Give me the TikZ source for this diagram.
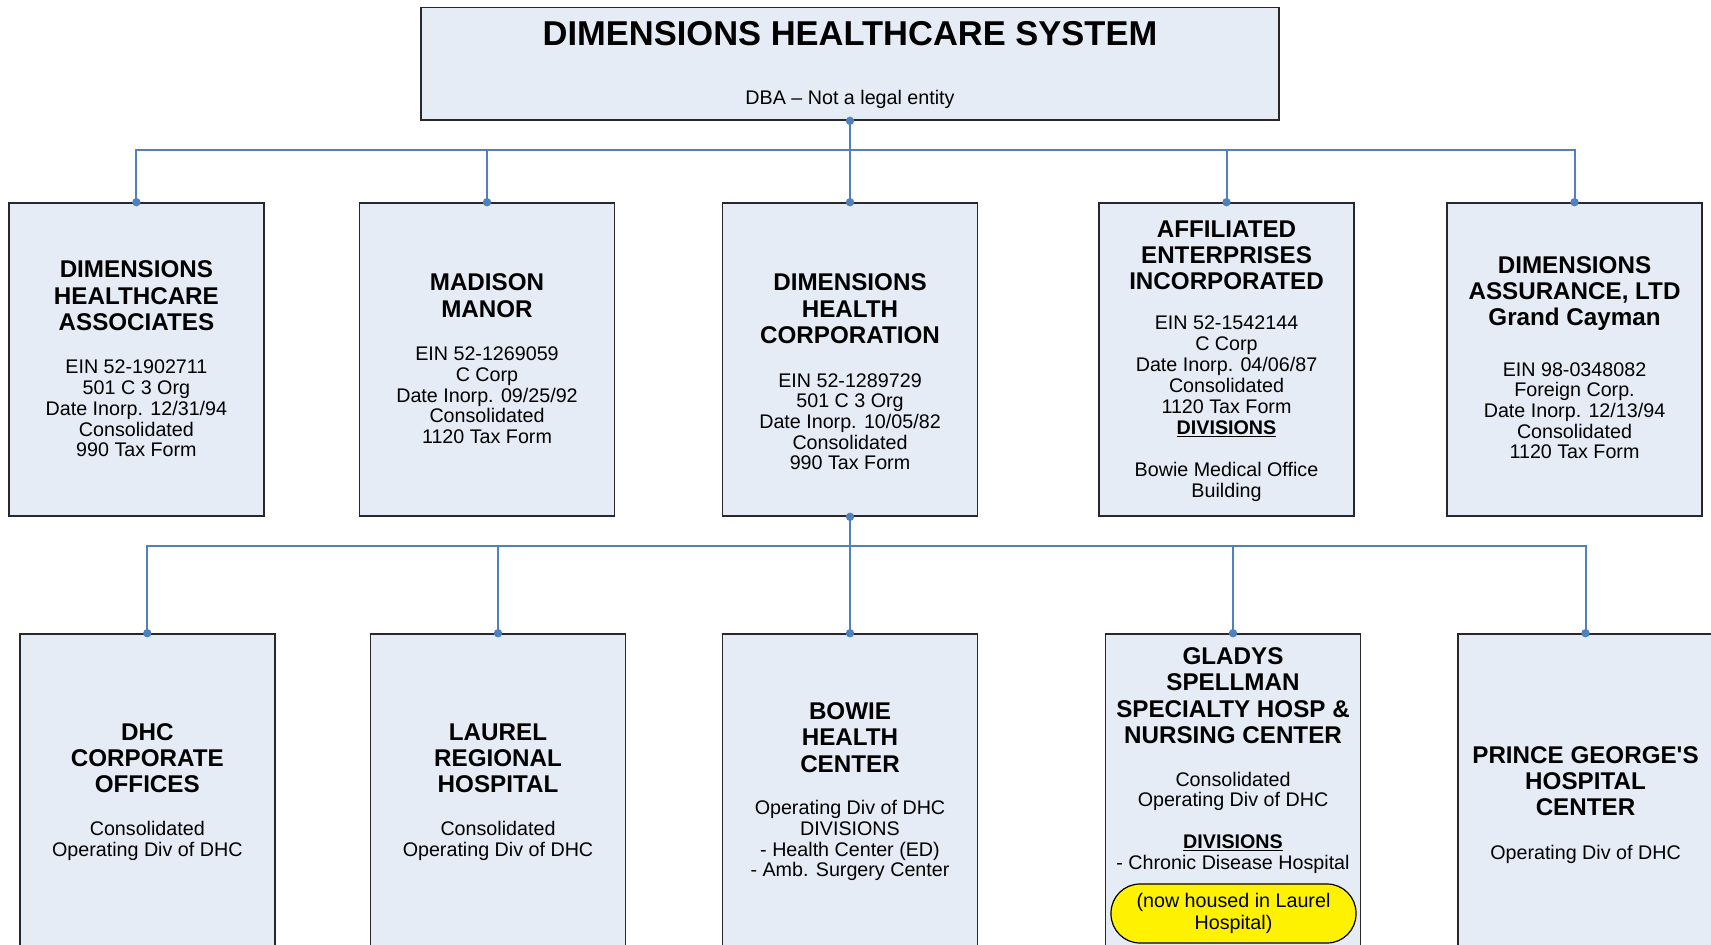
\documentclass[tikz,border=0pt]{standalone}
\usepackage{fontspec}
\setmainfont{Liberation Sans}
\definecolor{boxfill}{RGB}{230,236,246}
\definecolor{conn}{RGB}{79,129,189}
\definecolor{boxline}{RGB}{40,40,40}
\tikzset{
  orgbox/.style={draw=boxline, line width=1.6pt, fill=boxfill, minimum width=255pt, minimum height=#1, inner sep=0pt},
  ttl/.style={align=center, inner sep=0pt, font=\fontsize{24.2}{26.2}\selectfont\bfseries},
  bod/.style={align=center, inner sep=0pt, font=\fontsize{19.7}{20.7}\selectfont},
  link/.style={draw=conn, line width=2pt},
  note/.style={draw=black, line width=1.2pt, fill=yellow, rounded corners=29pt, minimum width=245pt, minimum height=59pt, inner sep=0pt, align=center, font=\fontsize{19.7}{21.5}\selectfont},
}
\begin{document}
\begin{tikzpicture}[x=1pt,y=-1pt]
\clip (0,0) rectangle (1711,945);
\fill[white] (0,0) rectangle (1711,945);
% top
\node[orgbox=112.5pt, minimum width=858pt] (top) at (850,63.8) {};
\node[inner sep=0pt, font=\fontsize{34.5}{36}\selectfont\bfseries] (toptitle) at (850,33.5) {DIMENSIONS HEALTHCARE SYSTEM};
\node[bod] (dba) at (850,99) {DBA – Not a legal entity};
% row 1 boxes
\node[orgbox=313pt] (a1) at (136.4,359.5) {};
\node[orgbox=313pt] (a2) at (487,359.5) {};
\node[orgbox=313pt] (a3) at (850,359.5) {};
\node[orgbox=313pt] (a4) at (1226.5,359.5) {};
\node[orgbox=313pt] (a5) at (1574.5,359.5) {};
% row 2 boxes
\node[orgbox=400pt] (b1) at (147.3,834) {};
\node[orgbox=400pt] (b2) at (498,834) {};
\node[orgbox=400pt] (b3) at (850,834) {};
\node[orgbox=400pt] (b4) at (1233,834) {};
\node[orgbox=400pt] (b5) at (1585.5,834) {};
% connectors
\coordinate (bus1) at (850,149.5);
\draw[link] (top.south) -- (bus1);
\foreach \n in {a1,a2,a3,a4,a5} \draw[link] (bus1) -| (\n.north);
\coordinate (bus2) at (850,545.6);
\draw[link] (a3.south) -- (bus2);
\foreach \n in {b1,b2,b3,b4,b5} \draw[link] (bus2) -| (\n.north);
\foreach \n in {a1,a2,a3,a4,a5,b1,b2,b3,b4,b5} \fill[conn] (\n.north) circle (4.2);
\fill[conn] (top.south) circle (4.2);
\fill[conn] (a3.south) circle (4.2);
% row 1 texts
\node[ttl] (a1t) at (136.4,295.7) {DIMENSIONS\\HEALTHCARE\\ASSOCIATES};
\node[bod] (a1b) at (136.4,408.6) {EIN 52-1902711\\501 C 3 Org\\Date Inorp. 12/31/94\\Consolidated\\990 Tax Form};
\node[ttl] (a2t) at (487,295.7) {MADISON\\MANOR};
\node[bod] (a2b) at (487,395.5) {EIN 52-1269059\\C Corp\\Date Inorp. 09/25/92\\Consolidated\\1120 Tax Form};
\node[ttl] (a3t) at (850,308.8) {DIMENSIONS\\HEALTH\\CORPORATION};
\node[bod] (a3b) at (850,421.7) {EIN 52-1289729\\501 C 3 Org\\Date Inorp. 10/05/82\\Consolidated\\990 Tax Form};
\node[ttl] (a4t) at (1226.5,255) {AFFILIATED\\ENTERPRISES\\INCORPORATED};
\node[bod, font=\fontsize{19.7}{21}\selectfont] (a4b) at (1226.5,408.5) {EIN 52-1542144\\C Corp\\Date Inorp. 04/06/87\\Consolidated\\1120 Tax Form\\\underline{\textbf{DIVISIONS}}\\[21pt]Bowie Medical Office\\Building};
\node[ttl] (a5t) at (1574.5,293.5) {DIMENSIONS\\ASSURANCE, LTD\\Grand Cayman};
\node[bod] (a5b) at (1574.5,410.8) {EIN 98-0348082\\Foreign Corp.\\Date Inorp. 12/13/94\\Consolidated\\1120 Tax Form};
% row 2 texts
\node[ttl] (b1t) at (147.3,758.4) {DHC\\CORPORATE\\OFFICES};
\node[bod] (b1b) at (147.3,840.6) {Consolidated\\Operating Div of DHC};
\node[ttl] (b2t) at (498,758.4) {LAUREL\\REGIONAL\\HOSPITAL};
\node[bod] (b2b) at (498,840.6) {Consolidated\\Operating Div of DHC};
\node[ttl] (b3t) at (850,737.6) {BOWIE\\HEALTH\\CENTER};
\node[bod] (b3b) at (850,840.6) {Operating Div of DHC\\DIVISIONS\\- Health Center (ED)\\- Amb. Surgery Center};
\node[ttl, font=\fontsize{24.2}{26.6}\selectfont\bfseries] (b4t) at (1233,695.6) {GLADYS\\SPELLMAN\\SPECIALTY HOSP \&\\NURSING CENTER};
\node[bod] (b4b) at (1233,822.5) {Consolidated\\Operating Div of DHC\\[20.7pt]\underline{\textbf{DIVISIONS}}\\- Chronic Disease Hospital};
\node[note] (b4n) at (1233.5,913.5) {(now housed in Laurel\\Hospital)};
\node[ttl] (b5t) at (1585.5,781.3) {PRINCE GEORGE\textquotesingle S\\HOSPITAL\\CENTER};
\node[bod] (b5b) at (1585.5,854.2) {Operating Div of DHC};
\end{tikzpicture}
\end{document}
